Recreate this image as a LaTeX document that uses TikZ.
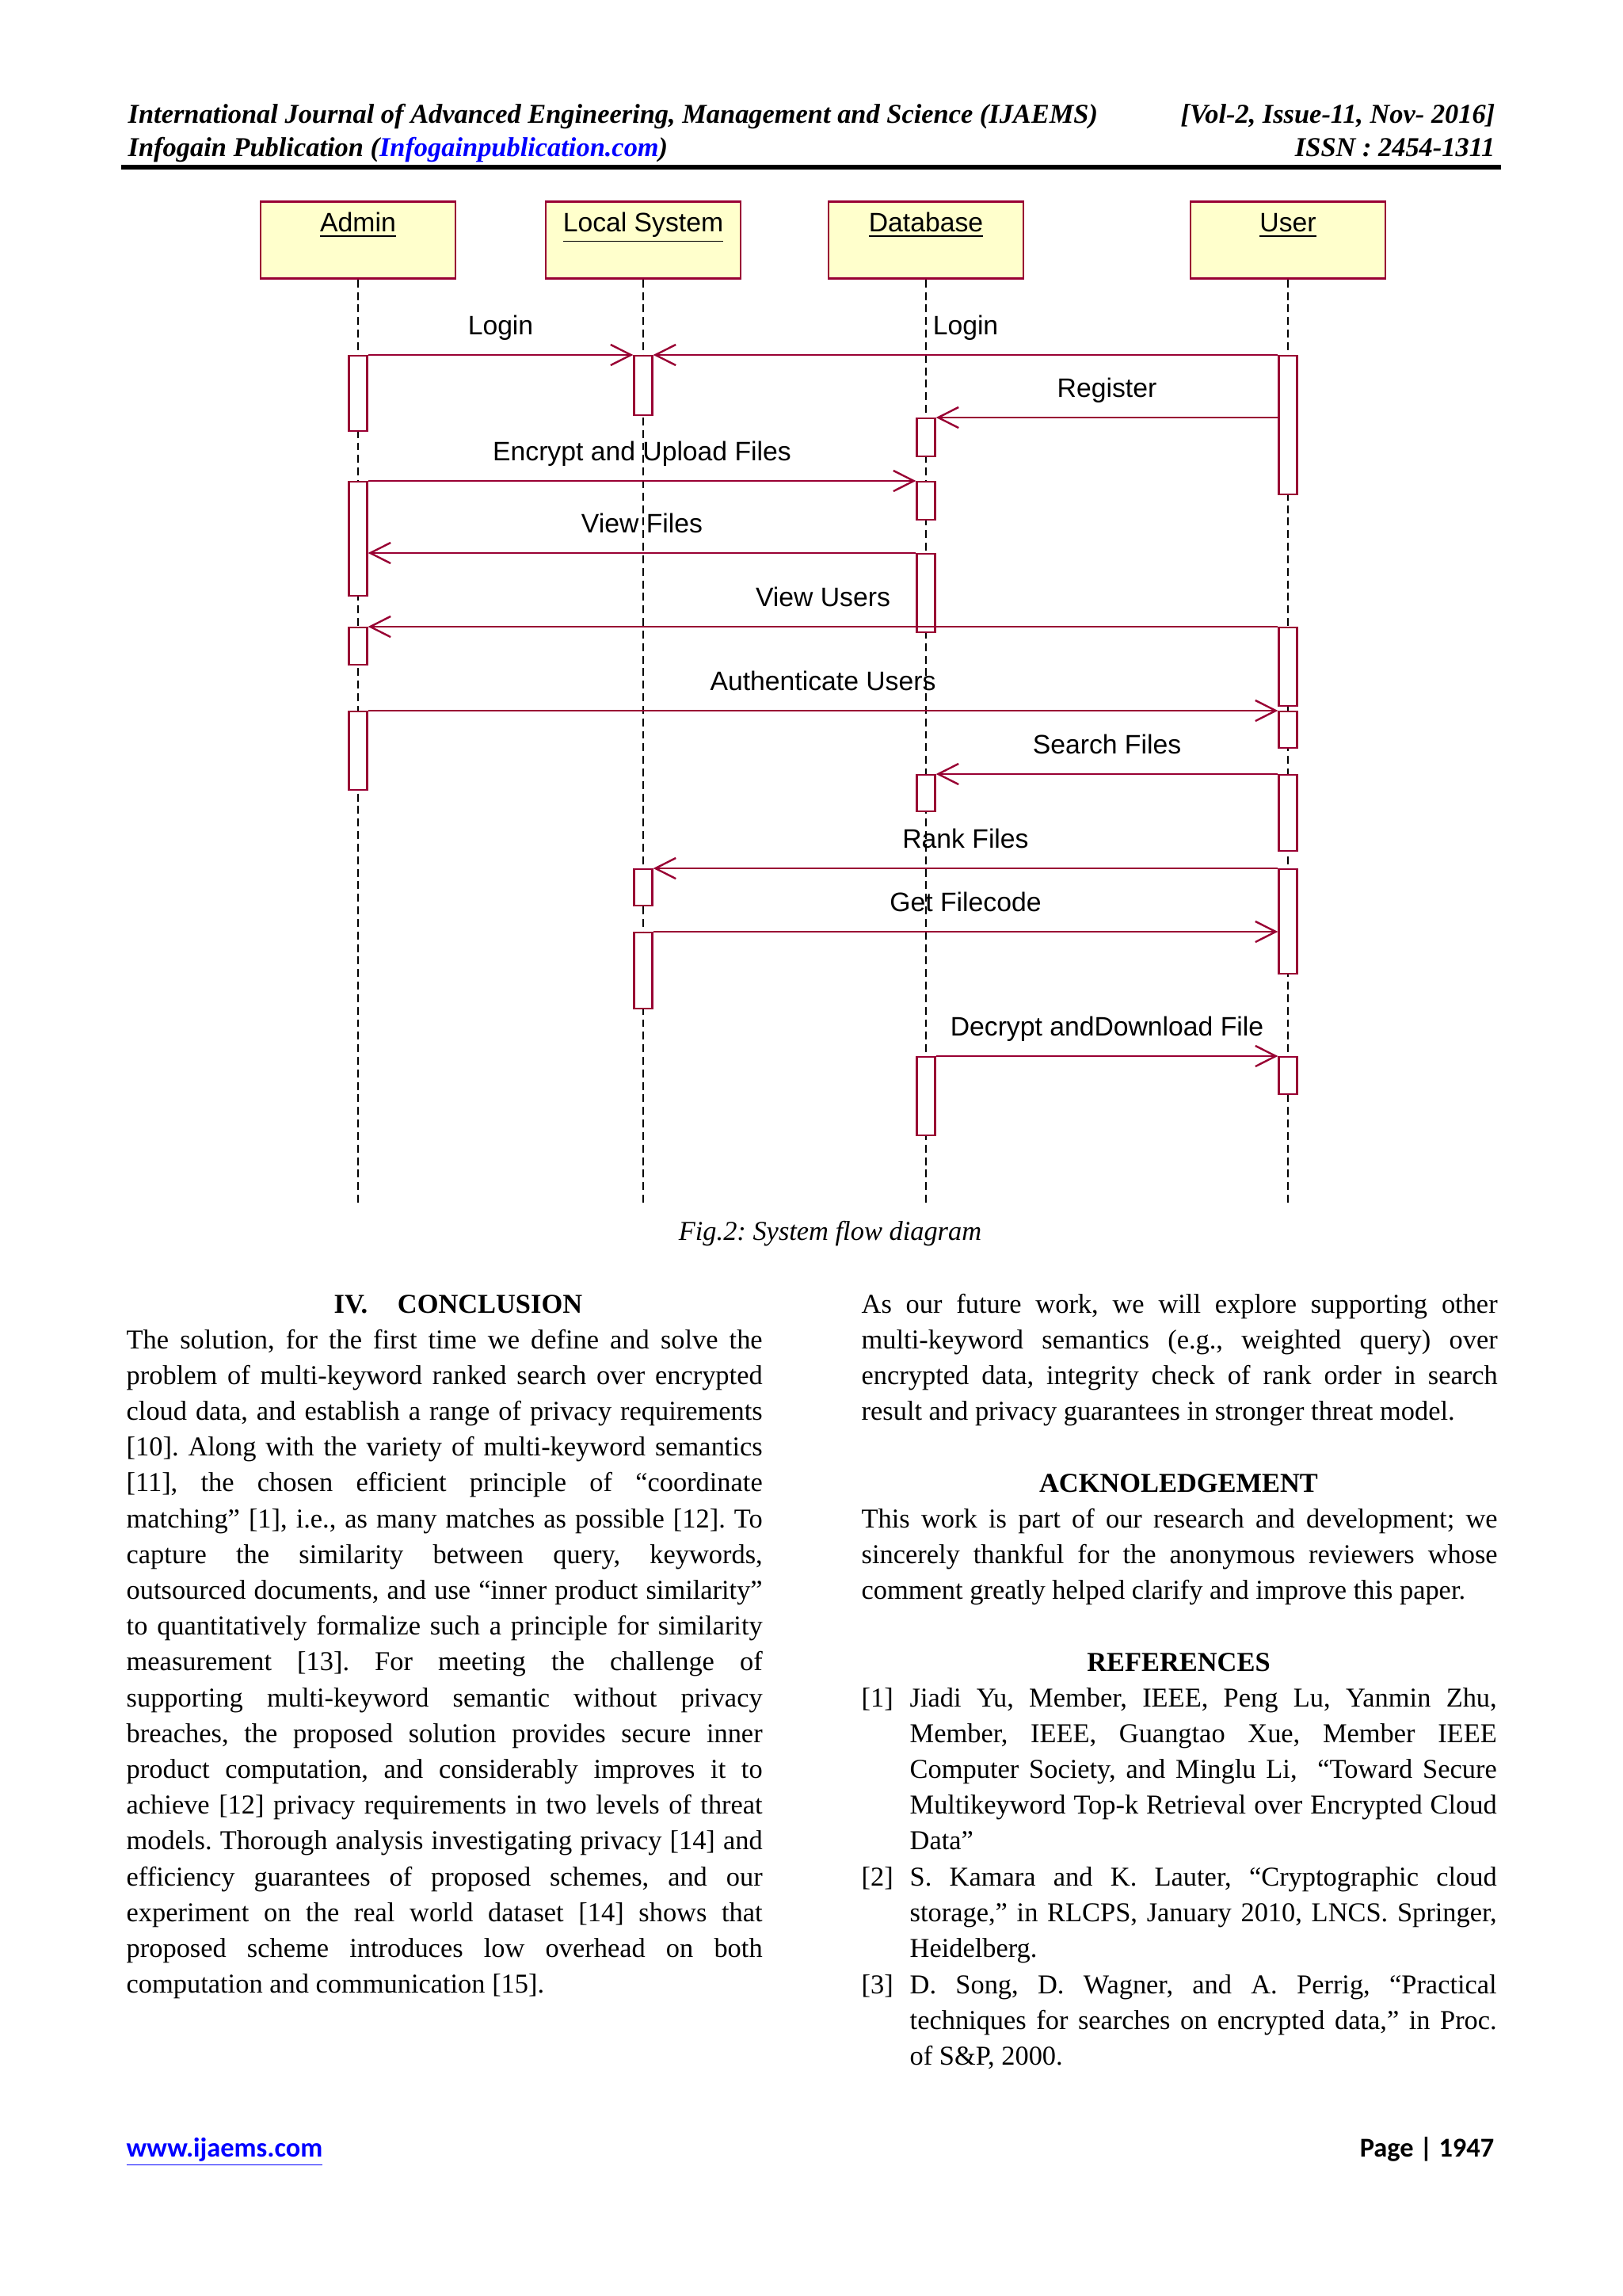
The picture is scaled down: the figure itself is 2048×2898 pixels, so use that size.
\documentclass[tikz,border=0pt]{standalone}
\usepackage{fontspec}
\setmainfont{Liberation Serif}
\newfontfamily\umlfont{Liberation Sans}
\newfontfamily\webfont{Carlito}
\usetikzlibrary{arrows.meta,positioning,calc}
\definecolor{umlred}{RGB}{153,0,51}
\definecolor{umlyellow}{RGB}{255,255,204}
\definecolor{linkblue}{RGB}{0,0,255}
\tolerance=10000
\hyphenpenalty=10000
\exhyphenpenalty=10000
\frenchspacing
\newcommand{\jbr}{\linebreak[4]}
\tikzset{
  actor/.style={draw=umlred,fill=umlyellow,line width=0.8pt,minimum width=71.5pt,minimum height=28.2pt,inner sep=0pt,anchor=north},
  actname/.style={font=\umlfont\fontsize{9.8}{11}\selectfont,anchor=base,inner sep=0pt},
  lifeline/.style={line width=0.45pt,dash pattern=on 2.9pt off 1.7pt},
  actbar/.style={draw=umlred,fill=white,line width=0.7pt,minimum width=6.7pt,inner sep=0pt,anchor=north},
  msg/.style={draw=umlred,line width=0.7pt,-{Straight Barb[length=7.5pt,width=7.6pt]}},
  msglabel/.style={font=\umlfont\fontsize{9.8}{11}\selectfont,anchor=base,yshift=7.3pt,inner sep=0pt},
  head/.style={font=\bfseries\itshape\fontsize{10}{12}\selectfont,inner sep=0pt},
  heading/.style={font=\bfseries\fontsize{10}{12}\selectfont,inner sep=0pt},
  body/.style={anchor=base west,inner sep=0pt,text width=233.4pt,align=justify,font=\fontsize{10}{13.14}\selectfont},
  reftext/.style={body,text width=215.4pt},
  caption/.style={font=\itshape\fontsize{10}{12}\selectfont,anchor=base,inner sep=0pt},
  web/.style={font=\webfont\bfseries\fontsize{10}{12}\selectfont,inner sep=0pt}
}
% activation bar: name, actor, top, bottom (px)
\newcommand{\actbar}[4]{\node[actbar,minimum height={(#4-#3)*0.29066pt}] (#1) at (#2.south |- 0,#3) {};}

\begin{document}
\begin{tikzpicture}[x=0.29066pt,y=-0.29066pt]
\useasboundingbox (0,0) rectangle (2048,2898);

% page header
\node[head,anchor=base west] (jname) at (161,155) {International Journal of Advanced Engineering, Management and Science (IJAEMS)};
\node[head,anchor=base east] (vol) at (1888,155) {[Vol-2, Issue-11, Nov- 2016]};
\node[head,anchor=base west] (pub) at (161,197) {Infogain Publication (\textcolor{linkblue}{\underline{Infogainpublication.com}})};
\node[head,anchor=base east] (issn) at (1888,197) {ISSN : 2454-1311};
\coordinate (rulel) at (153,211);
\coordinate (ruler) at (1895,211);
\draw[line width=1.7pt] (rulel) -- (ruler);

% actors
\node[actor] (admin) at (452,253) {};
\node[actor] (local) at (812,253) {};
\node[actor] (db) at (1169,253) {};
\node[actor] (user) at (1626,253) {};
\node[actname] (adminname) at ([yshift=-11.6pt]admin.north) {\underline{Admin}};
\node[actname] (localname) at ([yshift=-11.6pt]local.north) {\underline{Local System}};
\node[actname] (dbname) at ([yshift=-11.6pt]db.north) {\underline{Database}};
\node[actname] (username) at ([yshift=-11.6pt]user.north) {\underline{User}};

% lifelines
\foreach \a in {admin,local,db,user}{
  \coordinate (\a end) at (\a.south |- 0,1520);
  \draw[lifeline] (\a.south) -- (\a end);
}

% activation bars
\actbar{a1}{admin}{448}{543}
\actbar{a2}{admin}{607}{751}
\actbar{a3}{admin}{791}{838}
\actbar{a4}{admin}{897}{996}
\actbar{l1}{local}{448}{523}
\actbar{l2}{local}{1096}{1142}
\actbar{l3}{local}{1176}{1272}
\actbar{d1}{db}{527}{575}
\actbar{d2}{db}{607}{655}
\actbar{d3}{db}{698}{797}
\actbar{d4}{db}{977}{1023}
\actbar{d5}{db}{1333}{1432}
\actbar{u1}{user}{448}{623}
\actbar{u2}{user}{791}{890}
\actbar{u3}{user}{897}{943}
\actbar{u4}{user}{977}{1073}
\actbar{u5}{user}{1096}{1228}
\actbar{u6}{user}{1333}{1380}

% messages
\draw[msg] (a1.north east) -- node[msglabel] (mlogin) {Login} (l1.north west);
\draw[msg] (u1.north west) -- node[msglabel] (ulogin) {Login} (l1.north east);
\draw[msg] (u1.west |- d1.north) -- node[msglabel] (mreg) {Register} (d1.north east);
\draw[msg] (a2.north east) -- node[msglabel] (mupload) {Encrypt and Upload Files} (d2.north west);
\draw[msg] (d3.north west) -- node[msglabel] (mfiles) {View Files} (a2.east |- d3.north);
\draw[msg] (u2.north west) -- node[msglabel] (musers) {View Users} (a3.north east);
\draw[msg] (a4.north east) -- node[msglabel] (mauth) {Authenticate Users} (u3.north west);
\draw[msg] (u4.north west) -- node[msglabel] (msearch) {Search Files} (d4.north east);
\draw[msg] (u5.north west) -- node[msglabel] (mrank) {Rank Files} (l2.north east);
\draw[msg] (l3.north east) -- node[msglabel] (mcode) {Get Filecode} (u5.west |- l3.north);
\draw[msg] (d5.north east) -- node[msglabel] (mdown) {Decrypt andDownload File} (u6.north west);

\node[caption] (cap) at (1048,1565) {Fig.2: System flow diagram};

% left column
\node[heading,anchor=base west] (concltitle) at (421,1657) {IV.\hspace{11pt}CONCLUSION};
\node[body] (concl) at (159,1702) {The solution, for the first time we define and solve the\jbr
problem of multi-keyword ranked search over encrypted\jbr
cloud data, and establish a range of privacy requirements\jbr
[10]. Along with the variety of multi-keyword semantics\jbr
[11], the chosen efficient principle of “coordinate\jbr
matching” [1], i.e., as many matches as possible [12]. To\jbr
capture the similarity between query, keywords,\jbr
outsourced documents, and use “inner product similarity”\jbr
to quantitatively formalize such a principle for similarity\jbr
measurement [13]. For meeting the challenge of\jbr
supporting multi-keyword semantic without privacy\jbr
breaches, the proposed solution provides secure inner\jbr
product computation, and considerably improves it to\jbr
achieve [12] privacy requirements in two levels of threat\jbr
models. Thorough analysis investigating privacy [14] and\jbr
efficiency guarantees of proposed schemes, and our\jbr
experiment on the real world dataset [14] shows that\jbr
proposed scheme introduces low overhead on both\jbr
computation and communication [15].};

% right column
\node[body] (future) at (1087,1657) {As our future work, we will explore supporting other\jbr
multi-keyword semantics (e.g., weighted query) over\jbr
encrypted data, integrity check of rank order in search\jbr
result and privacy guarantees in stronger threat model.};
\node[heading,anchor=base] (acktitle) at (1488,1883) {ACKNOLEDGEMENT};
\node[body] (ack) at (1087,1928) {This work is part of our research and development; we\jbr
sincerely thankful for the anonymous reviewers whose\jbr
comment greatly helped clarify and improve this paper.};
\node[heading,anchor=base] (reftitle) at (1488,2109) {REFERENCES};
\node[body,text width=20pt] (ref1l) at (1087,2154) {[1]};
\node[reftext] (ref1) at (1148,2154) {Jiadi Yu, Member, IEEE, Peng Lu, Yanmin Zhu,\jbr
Member, IEEE, Guangtao Xue, Member IEEE\jbr
Computer Society, and Minglu Li,\ \ “Toward Secure\jbr
Multikeyword Top-k Retrieval over Encrypted Cloud\jbr
Data”};
\node[body,text width=20pt] (ref2l) at (1087,2380) {[2]};
\node[reftext] (ref2) at (1148,2380) {S. Kamara and K. Lauter, “Cryptographic cloud\jbr
storage,” in RLCPS, January 2010, LNCS. Springer,\jbr
Heidelberg.};
\node[body,text width=20pt] (ref3l) at (1087,2516) {[3]};
\node[reftext] (ref3) at (1148,2516) {D. Song, D. Wagner, and A. Perrig, “Practical\jbr
techniques for searches on encrypted data,” in Proc.\jbr
of S\&P, 2000.};

% footer
\node[web,anchor=base west] (site) at (159,2722) {\textcolor{linkblue}{\underline{www.ijaems.com}}};
\node[web,anchor=base east] (pageno) at (1887,2722) {Page | 1947};
\end{tikzpicture}
\end{document}
